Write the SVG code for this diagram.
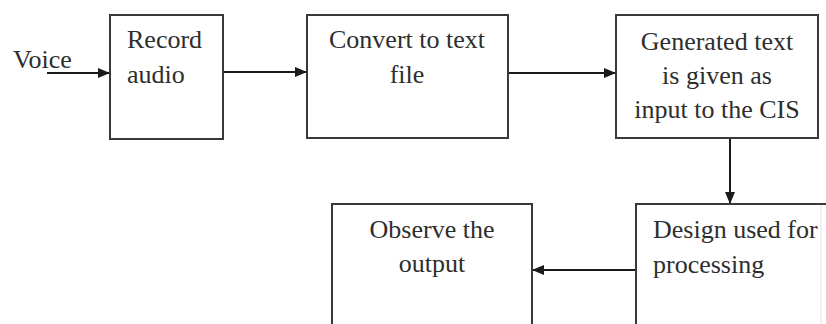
<svg xmlns="http://www.w3.org/2000/svg" width="826" height="324" viewBox="0 0 826 324">
  <style>
    .box { fill: #ffffff; stroke: #3a3a3a; stroke-width: 2; }
    .lbl { font-family: "Liberation Serif", "Times New Roman", serif; font-size: 26px; fill: #2e2e2e; }
    .mid { text-anchor: middle; }
    .wire { fill: none; stroke: #1a1a1a; stroke-width: 2; }
  </style>
  <defs>
    <marker id="arrow" viewBox="0 0 12 10" refX="12" refY="5" markerWidth="12" markerHeight="10" markerUnits="userSpaceOnUse" orient="auto">
      <path d="M0,0 L12,5 L0,10 Z" fill="#1a1a1a"/>
    </marker>
  </defs>
  <rect width="826" height="324" fill="#ffffff"/>

  <g id="connectors">
    <path class="wire" d="M47,73 H110" marker-end="url(#arrow)"/>
    <path class="wire" d="M223,72 H307" marker-end="url(#arrow)"/>
    <path class="wire" d="M508,73 H616" marker-end="url(#arrow)"/>
    <path class="wire" d="M730,138 V204" marker-end="url(#arrow)"/>
    <path class="wire" d="M636,270 H532" marker-end="url(#arrow)"/>
  </g>

  <g id="voice">
    <text class="lbl" x="13" y="68">Voice</text>
  </g>

  <g id="record-audio">
    <rect class="box" x="110" y="15" width="113" height="124"/>
    <text class="lbl" x="127" y="48">Record</text>
    <text class="lbl" x="127" y="83">audio</text>
  </g>

  <g id="convert-text">
    <rect class="box" x="307" y="15" width="201" height="123"/>
    <text class="lbl mid" x="407" y="48">Convert to text</text>
    <text class="lbl mid" x="407" y="83">file</text>
  </g>

  <g id="generated-text">
    <rect class="box" x="616" y="15" width="202" height="123"/>
    <text class="lbl mid" x="717" y="50">Generated text</text>
    <text class="lbl mid" x="717" y="84">is given as</text>
    <text class="lbl mid" x="717" y="118">input to the CIS</text>
  </g>

  <g id="design-processing">
    <path class="box" d="M636,330 V204 H826"/>
    <path d="M821,205 V330" fill="none" stroke="#e4e4e4" stroke-width="1"/>
    <text class="lbl" x="653" y="238">Design used for</text>
    <text class="lbl" x="653" y="273">processing</text>
  </g>

  <g id="observe-output">
    <path class="box" d="M332,330 V204 H532 V330"/>
    <text class="lbl mid" x="432" y="238">Observe the</text>
    <text class="lbl mid" x="432" y="272">output</text>
  </g>
</svg>
